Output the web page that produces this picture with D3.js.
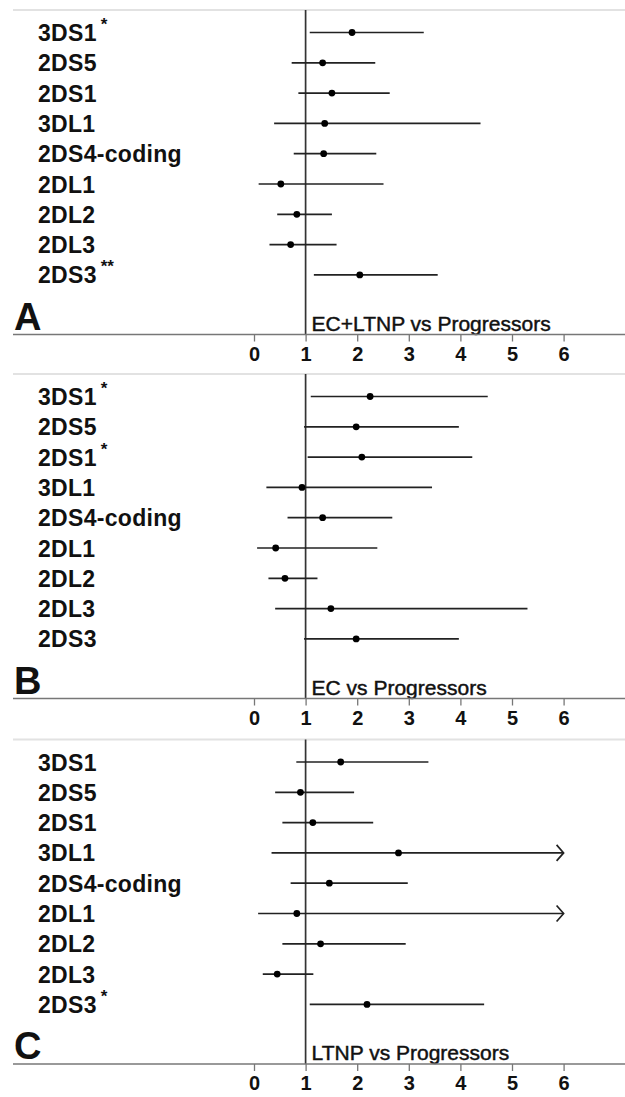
<!DOCTYPE html>
<html lang="en">
<head>
<meta charset="UTF-8">
<title>Forest plots A B C</title>
<script src="https://d3js.org/d3.v7.min.js"></script>
<style>
  body { margin: 0; background: #fff; }
  text { font-family: "Liberation Sans", Arial, Helvetica, sans-serif; fill: #111; }
</style>
</head>
<body>
<script>
// genes, top to bottom
const genes = ["3DS1", "2DS5", "2DS1", "3DL1", "2DS4-coding", "2DL1", "2DL2", "2DL3", "2DS3"];
const xTicks = [0, 1, 2, 3, 4, 5, 6];

// A: EC+LTNP vs Progressors
const estA = [1.90, 1.33, 1.51, 1.37, 1.35, 0.52, 0.83, 0.71, 2.05];
const loA  = [1.08, 0.73, 0.86, 0.39, 0.77, 0.09, 0.45, 0.30, 1.16];
const hiA  = [3.29, 2.35, 2.63, 4.39, 2.37, 2.51, 1.51, 1.60, 3.56];
const starsA = ["*", "", "", "", "", "", "", "", "**"];

// B: EC vs Progressors
const estB = [2.25, 1.98, 2.09, 0.93, 1.33, 0.42, 0.60, 1.49, 1.98];
const loB  = [1.10, 0.97, 1.04, 0.24, 0.65, 0.06, 0.28, 0.41, 0.97];
const hiB  = [4.53, 3.97, 4.23, 3.45, 2.68, 2.39, 1.23, 5.30, 3.97];
const starsB = ["*", "", "*", "", "", "", "", "", ""];

// C: LTNP vs Progressors (Infinity = upper limit runs off the axis)
const estC = [1.68, 0.90, 1.14, 2.80, 1.46, 0.83, 1.29, 0.45, 2.19];
const loC  = [0.82, 0.41, 0.55, 0.34, 0.71, 0.08, 0.55, 0.17, 1.08];
const hiC  = [3.38, 1.94, 2.31, Infinity, 2.98, Infinity, 2.94, 1.15, 4.46];
const starsC = ["", "", "", "", "", "", "", "", "*"];

const panels = [
  {letter: "A", title: "EC+LTNP vs Progressors", est: estA, lo: loA, hi: hiA, stars: starsA, top: 10},
  {letter: "B", title: "EC vs Progressors", est: estB, lo: loB, hi: hiB, stars: starsB, top: 374},
  {letter: "C", title: "LTNP vs Progressors", est: estC, lo: loC, hi: hiC, stars: starsC, top: 739.5}
];

const W = 625, H = 1097;
const svg = d3.select("body").append("svg").attr("width", W).attr("height", H);

const x = d3.scaleLinear().domain([0, 6]).range([254, 563.6]);

panels.forEach(p => {
  const g = svg.append("g");
  const axisY = p.top + 324.5;
  const y = d3.scalePoint().domain(genes).range([p.top + 22.5, p.top + 22.5 + 8 * 30.3]);

  // top separator
  g.append("line").attr("x1", 13).attr("x2", W).attr("y1", p.top).attr("y2", p.top)
    .attr("stroke", "#e2e2e2").attr("stroke-width", 2);

  // gene labels
  const lab = g.selectAll(".lab").data(genes).enter().append("text")
    .attr("x", 38).attr("y", d => y(d) + 8.5)
    .style("font-size", "23px").style("font-weight", "bold").style("letter-spacing", "0.3px")
    .text(d => d);
  lab.append("tspan").attr("dx", 4).attr("dy", -11)
    .style("font-size", "17px").style("letter-spacing", "0px")
    .text((d, i) => p.stars[i]);

  // reference line at 1
  g.append("line").attr("x1", x(1)).attr("x2", x(1)).attr("y1", p.top).attr("y2", axisY)
    .attr("stroke", "#333").attr("stroke-width", 1.7);

  // CI lines
  genes.forEach((gene, i) => {
    const hiV = Math.min(p.hi[i], 6);
    g.append("line").attr("x1", x(p.lo[i])).attr("x2", x(hiV))
      .attr("y1", y(gene)).attr("y2", y(gene))
      .attr("stroke", "#222").attr("stroke-width", 1.7);
    if (p.hi[i] > 6) {
      g.append("path")
        .attr("d", `M${x(6) - 7},${y(gene) - 8} L${x(6)},${y(gene)} L${x(6) - 7},${y(gene) + 8}`)
        .attr("fill", "none").attr("stroke", "#222").attr("stroke-width", 1.7);
    }
    g.append("circle").attr("cx", x(p.est[i])).attr("cy", y(gene)).attr("r", 3.4).attr("fill", "#000");
  });

  // panel letter and title
  g.append("text").attr("x", 14).attr("y", axisY - 5)
    .style("font-size", "38px").style("font-weight", "bold").text(p.letter);
  g.append("text").attr("x", x(1) + 6).attr("y", axisY - 4)
    .style("font-size", "21px").style("stroke", "#111").style("stroke-width", "0.45px")
    .text(p.title);

  // x axis
  g.append("line").attr("x1", 13).attr("x2", W).attr("y1", axisY).attr("y2", axisY)
    .attr("stroke", "#777").attr("stroke-width", 1.6);
  const ax = g.append("g").attr("transform", `translate(0,${axisY})`)
    .call(d3.axisBottom(x).tickValues(xTicks).tickSize(7).tickPadding(5).tickFormat(d3.format("d")));
  ax.select(".domain").remove();
  ax.selectAll(".tick line").attr("stroke", "#777").attr("stroke-width", 1.3);
  ax.selectAll(".tick text").attr("font-size", null).attr("font-family", null)
    .style("font-size", "20px").style("font-weight", "bold").attr("fill", "#111");
});
</script>
</body>
</html>
